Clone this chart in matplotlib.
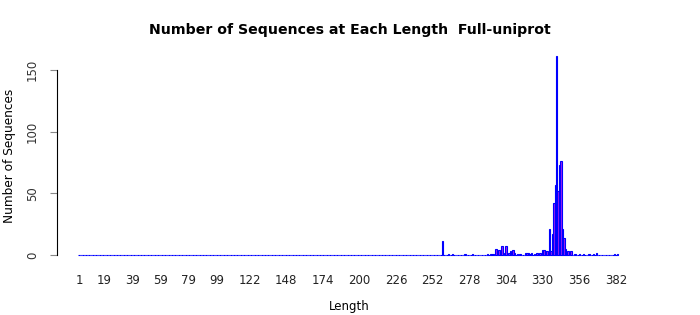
import numpy as np
import matplotlib
matplotlib.use("Agg")
import matplotlib.pyplot as plt

# Sequence lengths that occur (all others have zero sequences)
max_length = 383
seen_lengths = [259, 263, 266, 275, 280, 291, 293, 294, 295, 297, 299, 300,
                301, 303, 304, 306, 307, 309, 310, 312, 314, 318, 319, 320,
                321, 322, 324, 326, 328, 330, 331, 332, 333, 334, 335, 336,
                337, 338, 339, 340, 341, 342, 343, 344, 345, 346, 347, 348,
                350, 353, 356, 359, 363, 366, 368, 381, 383]
seen_counts = [11, 1, 1, 1, 1, 1, 1, 1, 1, 5, 4, 1,
               7, 2, 7, 2, 3, 4, 2, 1, 1, 2, 2, 2,
               1, 2, 1, 2, 2, 4, 4, 3, 3, 2, 21, 3,
               17, 42, 57, 161, 52, 73, 76, 21, 14, 5, 2, 3,
               3, 1, 1, 1, 1, 1, 2, 1, 1]

tick_labels = [1, 19, 39, 59, 79, 99, 122, 148, 174, 200, 226, 252, 278,
               304, 330, 356, 382]

lengths = np.arange(1, max_length + 1)
counts = np.zeros(max_length)
counts[np.array(seen_lengths) - 1] = seen_counts

fig = plt.figure(figsize=(7, 3.15), dpi=100)
ax = fig.add_axes([0.0814, 0.165, 0.835, 0.68])

ax.bar(lengths, counts, width=1.0, color="#A020F0", edgecolor="blue",
       linewidth=0.8)

ax.set_xlim(-14.6, 400.1)
ax.set_ylim(-6.5, 167.1)

for s in ["top", "right", "bottom"]:
    ax.spines[s].set_visible(False)
ax.spines["left"].set_bounds(0, 150)
ax.spines["left"].set_linewidth(0.8)

ax.set_yticks([0, 50, 100, 150])
ax.set_yticklabels(["0", "50", "100", "150"], rotation=90, va="center",
                   fontsize=8.5, color="#333333")
ax.tick_params(axis="y", length=5, width=0.8, color="#888888", pad=8)

ax.set_xticks(tick_labels)
ax.set_xticklabels([str(t) for t in tick_labels], fontsize=8.5, color="#222222")
ax.tick_params(axis="x", length=0, pad=8)

ax.set_xlabel("Length", fontsize=8.5, labelpad=9)
ax.set_ylabel("Number of Sequences", fontsize=8.7, labelpad=7)
fig.text(0.5, 1 - 30 / 315, "Number of Sequences at Each Length  Full-uniprot",
         ha="center", va="center", fontsize=10.2, fontweight="bold")

fig.savefig("out.png", dpi=100)
